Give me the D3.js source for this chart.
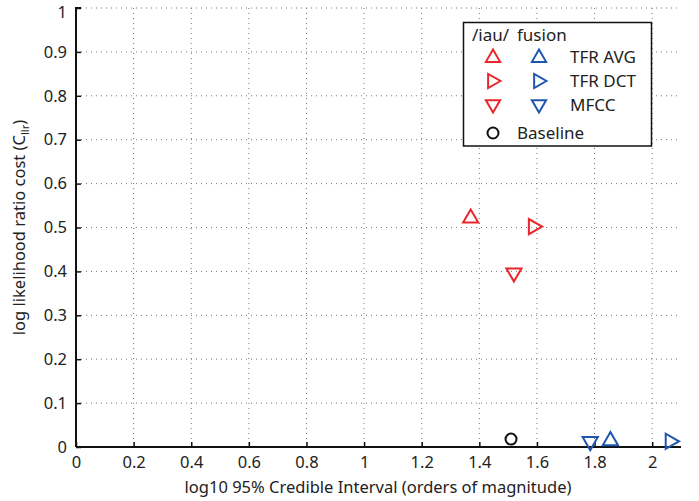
<!DOCTYPE html>
<html>
<head>
<meta charset="utf-8">
<script src="https://cdn.jsdelivr.net/npm/d3@7"></script>
<style>
    body { margin: 0; background: #fff; }
    svg text { font-family: "Noto Sans", sans-serif; fill: #222; }
</style>
</head>
<body>
<div id="chart"></div>
<script>
// 数据
var xTicks = [0, 0.2, 0.4, 0.6, 0.8, 1, 1.2, 1.4, 1.6, 1.8, 2];
var yTicks = [0, 0.1, 0.2, 0.3, 0.4, 0.5, 0.6, 0.7, 0.8, 0.9, 1];
var features = ["TFR AVG", "TFR DCT", "MFCC"];
var shapes = ["up", "right", "down"];
var iauX = [1.37, 1.59, 1.52];
var iauY = [0.523, 0.502, 0.395];
var fusionX = [1.855, 2.065, 1.785];
var fusionY = [0.016, 0.013, 0.011];
var baselineX = [1.51];
var baselineY = [0.018];

var red = "#e8262b", blue = "#1f56b0";

var margin = { top: 8, right: 18, bottom: 54, left: 76 };
var W = 699, H = 501;
var width = W - margin.left - margin.right;
var height = H - margin.top - margin.bottom;

var svg = d3.select("#chart").append("svg")
    .attr("width", W)
    .attr("height", H)
    .append("g")
    .attr("transform", "translate(" + margin.left + "," + margin.top + ")");

var x = d3.scaleLinear().domain([0, 2.1]).range([0, width]);
var y = d3.scaleLinear().domain([0, 1]).range([height, 0]);

// 网格线
svg.selectAll(".vgrid").data(xTicks.slice(1)).enter().append("line")
    .attr("x1", d => x(d)).attr("x2", d => x(d))
    .attr("y1", 0).attr("y2", height)
    .attr("stroke", "#777").attr("stroke-width", 1)
    .attr("stroke-dasharray", "1,4");
svg.selectAll(".hgrid").data(yTicks.slice(1)).enter().append("line")
    .attr("x1", 0).attr("x2", width)
    .attr("y1", d => y(d)).attr("y2", d => y(d))
    .attr("stroke", "#777").attr("stroke-width", 1)
    .attr("stroke-dasharray", "1,4");

// 坐标轴
var xAxis = svg.append("g")
    .attr("transform", "translate(0," + height + ")")
    .call(d3.axisBottom(x).tickValues(xTicks).tickFormat(d3.format("~g"))
        .tickSizeInner(-5).tickSizeOuter(0).tickPadding(9));
var yAxis = svg.append("g")
    .call(d3.axisLeft(y).tickValues(yTicks).tickFormat(d3.format("~g"))
        .tickSizeInner(-5).tickSizeOuter(0).tickPadding(9));
[xAxis, yAxis].forEach(function (g) {
    g.select(".domain").attr("stroke", "#111").attr("stroke-width", 2);
    g.selectAll(".tick line").attr("stroke", "#111").attr("stroke-width", 1.5);
    g.selectAll(".tick text").attr("font-size", 16.5).attr("fill", "#222")
        .style("font-family", "Noto Sans, sans-serif");
});
xAxis.select(".domain").attr("d", "M0,0H" + width);
yAxis.select(".domain").attr("d", "M0," + height + "V0H5");
// 顶部标签 "1" 稍微下移，避免被裁切
yAxis.selectAll(".tick text").filter(d => d === 1).attr("dy", "0.6em");

// 三角形符号
function triPath(dir, s) {
    var pts;
    if (dir === "up") pts = [[0, -s], [s * 0.95, s * 0.65], [-s * 0.95, s * 0.65]];
    else if (dir === "down") pts = [[0, s], [s * 0.95, -s * 0.65], [-s * 0.95, -s * 0.65]];
    else pts = [[s, 0], [-s * 0.65, s * 0.95], [-s * 0.65, -s * 0.95]];
    return "M" + pts.map(p => p.join(",")).join("L") + "Z";
}

function drawSeries(xs, ys, color) {
    svg.selectAll(null).data(xs.map((v, i) => ({ x: v, y: ys[i], s: shapes[i] })))
        .enter().append("path")
        .attr("transform", d => "translate(" + x(d.x) + "," + y(d.y) + ")")
        .attr("d", d => triPath(d.s, 8))
        .attr("fill", "none").attr("stroke", color).attr("stroke-width", 2);
}
drawSeries(iauX, iauY, red);
drawSeries(fusionX, fusionY, blue);

svg.selectAll(".base").data(baselineX).enter().append("circle")
    .attr("cx", d => x(d)).attr("cy", (d, i) => y(baselineY[i]))
    .attr("r", 5.5).attr("fill", "none").attr("stroke", "#111").attr("stroke-width", 2);

// 图例
var lg = d3.select("svg").append("g");
lg.append("rect").attr("x", 463.5).attr("y", 22.5).attr("width", 188).attr("height", 123.5)
    .attr("fill", "#fff").attr("stroke", "#111").attr("stroke-width", 1.5);
lg.append("text").attr("x", 472).attr("y", 41).attr("font-size", 17).text("/iau/");
lg.append("text").attr("x", 517).attr("y", 41).attr("font-size", 17).text("fusion");
features.forEach(function (f, i) {
    var yy = 57 + i * 24;
    lg.append("path").attr("transform", "translate(493," + yy + ")")
        .attr("d", triPath(shapes[i], 7.5)).attr("fill", "none").attr("stroke", red).attr("stroke-width", 2);
    lg.append("path").attr("transform", "translate(539," + yy + ")")
        .attr("d", triPath(shapes[i], 7.5)).attr("fill", "none").attr("stroke", blue).attr("stroke-width", 2);
    lg.append("text").attr("x", 570).attr("y", yy + 6).attr("font-size", 17).text(f);
});
lg.append("circle").attr("cx", 493).attr("cy", 133).attr("r", 5.5)
    .attr("fill", "none").attr("stroke", "#111").attr("stroke-width", 2);
lg.append("text").attr("x", 517).attr("y", 139).attr("font-size", 17).text("Baseline");

// 轴标题
d3.select("svg").append("text")
    .attr("x", 378).attr("y", 493)
    .attr("text-anchor", "middle").attr("font-size", 16.5)
    .text("log10 95% Credible Interval (orders of magnitude)");
var yl = d3.select("svg").append("text")
    .attr("transform", "translate(25," + (margin.top + height / 2) + ") rotate(-90)")
    .attr("text-anchor", "middle").attr("font-size", 16.5);
yl.append("tspan").text("log likelihood ratio cost (C");
yl.append("tspan").attr("font-size", 11).attr("dy", 4).text("llr");
yl.append("tspan").attr("dy", -4).text(")");
</script>
</body>
</html>
